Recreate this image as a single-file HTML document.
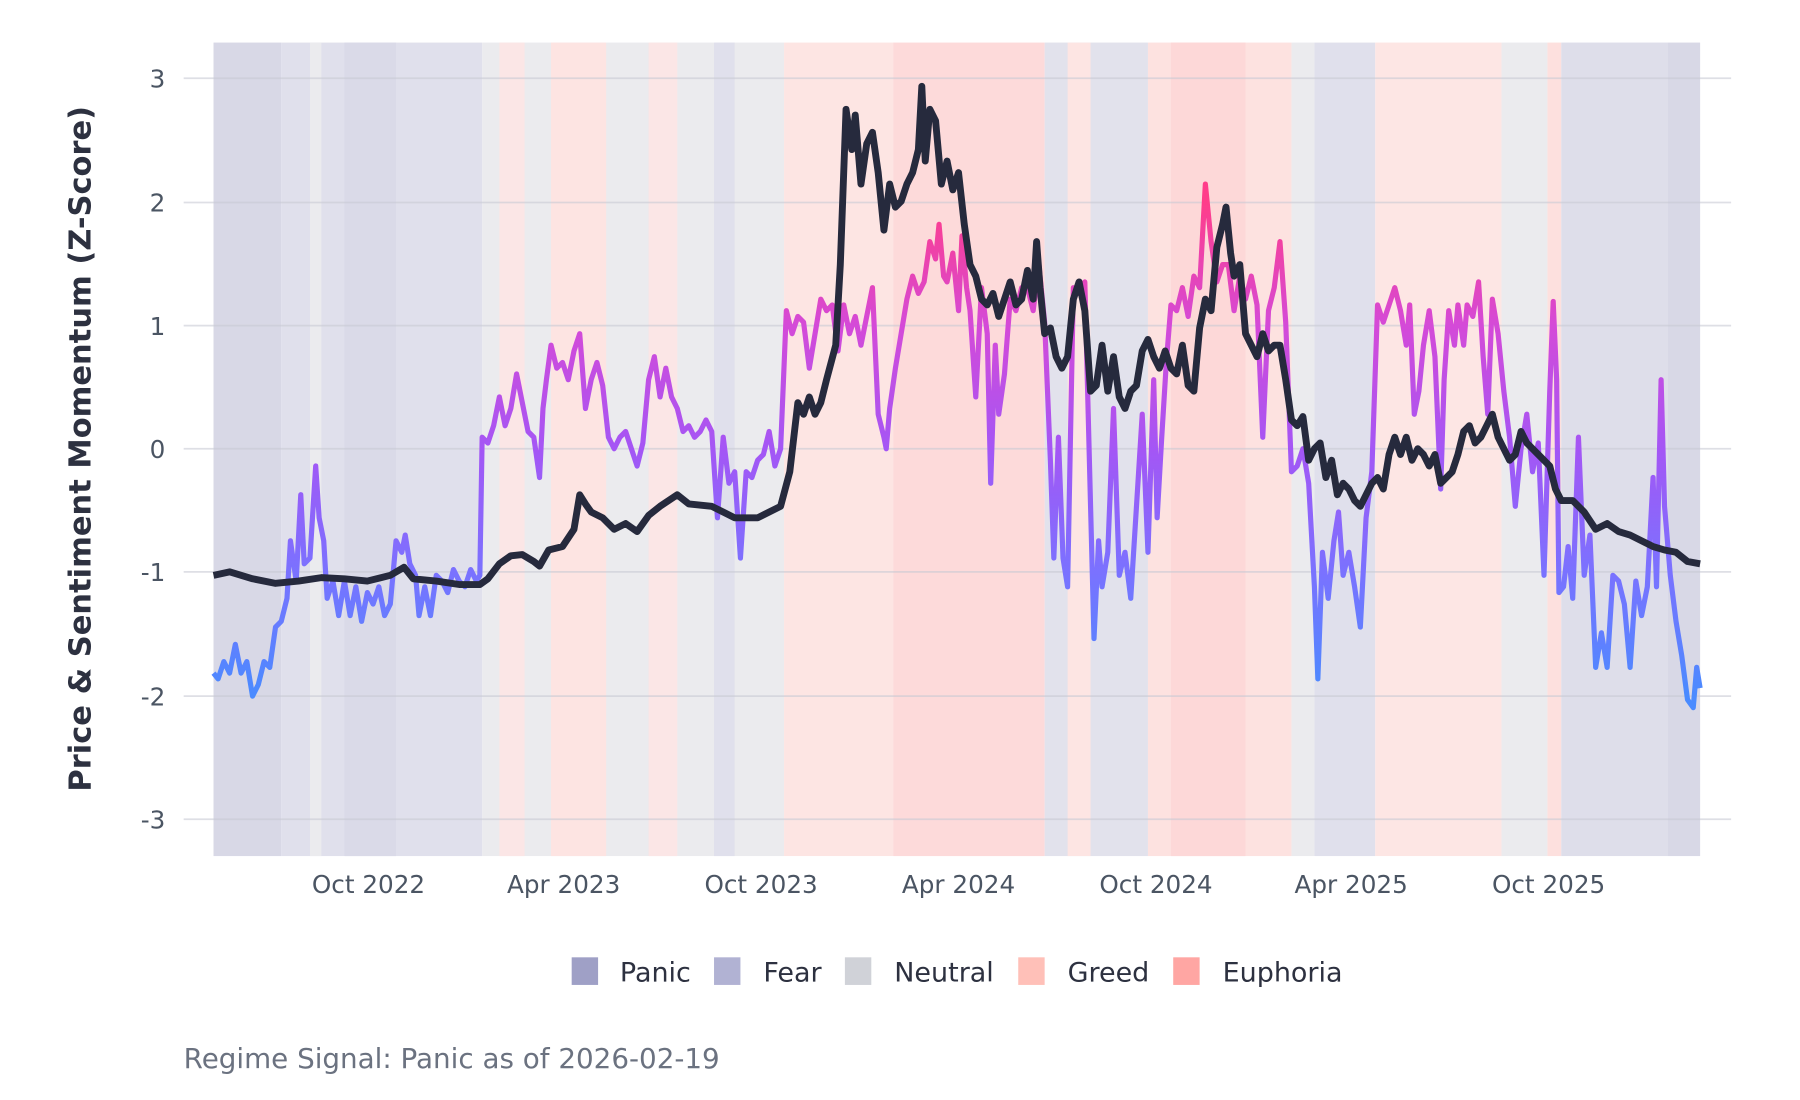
<!DOCTYPE html>
<html><head><meta charset="utf-8"><style>html,body{margin:0;padding:0;background:#fff}svg{display:block}text{font-family:"DejaVu Sans","Liberation Sans",sans-serif}</style></head><body>
<svg width="1800" height="1100" viewBox="0 0 1568 956" preserveAspectRatio="none" xmlns="http://www.w3.org/2000/svg">
<defs>
<linearGradient id="sg" gradientUnits="userSpaceOnUse" x1="0" y1="605" x2="0" y2="176">
<stop offset="0" stop-color="#4a8bff"/>
<stop offset="0.25" stop-color="#7a72ff"/>
<stop offset="0.5" stop-color="#a456f5"/>
<stop offset="0.75" stop-color="#d44ad8"/>
<stop offset="1" stop-color="#ff3d8a"/>
</linearGradient>
</defs>
<g>
<rect x="186" y="37" width="59" height="707" fill="#d8d8e6"/>
<rect x="245" y="37" width="175" height="707" fill="#e0e0ec"/>
<rect x="270" y="37" width="10" height="707" fill="#ebebee"/>
<rect x="300" y="37" width="45" height="707" fill="#dadae8"/>
<rect x="420" y="37" width="263" height="707" fill="#ebebee"/>
<rect x="435" y="37" width="22" height="707" fill="#fbe6e6"/>
<rect x="480" y="37" width="48" height="707" fill="#fde4e2"/>
<rect x="565" y="37" width="25" height="707" fill="#fbe6e6"/>
<rect x="622" y="37" width="18" height="707" fill="#e0e0ec"/>
<rect x="683" y="37" width="95" height="707" fill="#fde5e3"/>
<rect x="778" y="37" width="132" height="707" fill="#fddada"/>
<rect x="910" y="37" width="90" height="707" fill="#e2e2ec"/>
<rect x="930" y="37" width="20" height="707" fill="#fde5e3"/>
<rect x="1000" y="37" width="125" height="707" fill="#fde2e0"/>
<rect x="1020" y="37" width="65" height="707" fill="#fdd8d8"/>
<rect x="1125" y="37" width="20" height="707" fill="#ebebee"/>
<rect x="1145" y="37" width="53" height="707" fill="#e0e0ec"/>
<rect x="1198" y="37" width="110" height="707" fill="#fde6e4"/>
<rect x="1308" y="37" width="40" height="707" fill="#ebebee"/>
<rect x="1348" y="37" width="12" height="707" fill="#fde0de"/>
<rect x="1360" y="37" width="93" height="707" fill="#dedeea"/>
<rect x="1453" y="37" width="28" height="707" fill="#d8d8e6"/>
</g>
<g stroke="#c8cad4" stroke-opacity="0.6" stroke-width="1.5">
<line x1="160" x2="1508" y1="68" y2="68"/><line x1="160" x2="1508" y1="176" y2="176"/>
<line x1="160" x2="1508" y1="283" y2="283"/><line x1="160" x2="1508" y1="390" y2="390"/>
<line x1="160" x2="1508" y1="497" y2="497"/><line x1="160" x2="1508" y1="605" y2="605"/>
<line x1="160" x2="1508" y1="712" y2="712"/>
</g>
<g font-size="21.5" fill="#4b5563" text-anchor="end">
<text x="144" y="76">3</text><text x="144" y="184">2</text><text x="144" y="291">1</text><text x="144" y="398">0</text>
<text x="144" y="505">-1</text><text x="144" y="613">-2</text><text x="144" y="720">-3</text>
</g>
<g font-size="21.5" fill="#4b5563" text-anchor="middle">
<text x="321" y="776">Oct 2022</text><text x="491" y="776">Apr 2023</text><text x="663" y="776">Oct 2023</text>
<text x="835" y="776">Apr 2024</text><text x="1007" y="776">Oct 2024</text><text x="1177" y="776">Apr 2025</text><text x="1349" y="776">Oct 2025</text>
</g>
<text transform="translate(79,390) rotate(-90)" text-anchor="middle" font-size="26.5" font-weight="bold" fill="#2d3140">Price &amp; Sentiment Momentum (Z-Score)</text>
<polyline fill="none" stroke="url(#sg)" stroke-width="4.5" stroke-linejoin="round" points="186,585 190,590 195,575 200,585 205,560 210,585 215,575 220,605 225,595 230,575 235,580 240,545 245,540 250,520 253,470 258,505 262,430 265,490 270,485 275,405 278,450 282,470 285,520 290,505 295,535 300,505 305,535 310,510 315,540 320,515 325,525 330,510 335,535 340,525 345,470 350,480 353,465 357,490 362,500 365,535 370,510 375,535 380,500 385,505 390,515 395,495 400,505 405,510 410,495 415,505 418,500 420,380 425,385 430,370 435,345 440,370 445,355 450,325 455,350 460,375 465,380 470,415 473,355 476,330 480,300 485,320 490,315 495,330 500,305 505,290 510,355 515,330 520,315 525,335 530,380 535,390 540,380 545,375 550,390 555,405 560,385 565,330 570,310 575,345 580,320 585,345 590,355 595,375 600,370 605,380 610,375 615,365 620,375 625,450 630,380 635,420 640,410 645,485 650,410 655,415 660,400 665,395 670,375 675,405 680,390 685,270 690,290 695,275 700,280 705,320 710,290 715,260 720,270 725,265 730,305 735,265 740,290 745,275 750,300 755,275 760,250 765,360 770,380 772,390 775,355 780,320 785,290 790,260 795,240 800,255 805,245 810,210 815,225 818,195 822,240 825,245 830,220 835,270 838,205 842,250 845,270 850,345 855,250 860,290 863,420 867,300 870,360 875,325 880,260 885,270 890,250 895,250 900,270 905,230 910,280 915,400 918,485 922,380 926,485 930,510 935,250 940,255 945,245 950,440 953,555 957,470 960,510 965,480 970,355 975,500 980,480 985,520 990,440 995,360 1000,480 1005,330 1008,450 1012,380 1016,315 1020,265 1025,270 1030,250 1035,275 1040,240 1045,250 1050,160 1055,210 1060,245 1065,230 1070,230 1075,270 1080,240 1085,260 1090,240 1095,265 1100,380 1105,270 1110,250 1115,210 1120,280 1125,410 1130,405 1135,390 1140,420 1145,510 1148,590 1152,480 1157,520 1162,470 1166,445 1170,500 1175,480 1180,510 1185,545 1190,450 1195,410 1200,265 1205,280 1210,265 1215,250 1220,270 1225,300 1228,265 1232,360 1236,340 1240,300 1245,270 1250,310 1255,425 1258,330 1262,270 1267,300 1270,265 1275,300 1278,265 1283,275 1288,245 1292,310 1296,360 1300,260 1305,290 1310,340 1315,380 1320,440 1325,390 1330,360 1335,410 1340,385 1345,500 1350,340 1353,262 1356,330 1358,515 1362,510 1366,475 1370,520 1375,380 1380,500 1385,465 1390,580 1395,550 1400,580 1405,500 1410,505 1415,525 1420,580 1425,505 1430,535 1435,510 1440,415 1443,510 1447,330 1450,440 1455,500 1460,540 1465,570 1470,608 1475,615 1478,580 1481,598"/>
<polyline fill="none" stroke="#262a3d" stroke-width="6" stroke-linejoin="round" points="186,500 200,497 220,503 240,507 260,505 280,502 300,503 320,505 340,500 352,493 360,503 380,505 400,508 418,508 425,503 435,490 445,483 455,482 465,488 470,492 478,478 490,475 500,460 505,430 510,438 515,445 525,450 535,460 545,455 555,462 565,448 575,440 590,430 600,438 620,440 640,450 660,450 680,440 688,410 695,350 700,360 705,345 710,360 715,350 720,330 728,300 732,230 737,95 742,130 745,100 750,160 755,125 760,115 765,150 770,200 775,160 780,180 785,175 790,160 795,150 800,130 803,75 806,140 810,95 815,105 820,160 825,140 830,165 835,150 840,195 845,230 850,240 855,260 860,265 865,255 870,275 875,260 880,245 885,265 890,260 895,235 900,260 903,210 906,250 910,290 915,285 920,310 925,320 930,310 935,260 940,245 945,270 950,340 955,335 960,300 965,340 970,310 975,345 980,355 985,340 990,335 995,305 1000,295 1005,310 1010,320 1015,305 1020,320 1025,325 1030,300 1035,335 1040,340 1045,285 1050,260 1055,270 1060,215 1065,195 1068,180 1072,220 1075,240 1080,230 1085,290 1090,300 1095,310 1100,290 1105,305 1110,300 1115,300 1120,330 1125,365 1130,370 1135,362 1140,400 1145,390 1150,385 1155,415 1160,400 1165,430 1170,420 1175,425 1180,435 1185,440 1190,430 1195,420 1200,415 1205,425 1210,395 1215,380 1220,395 1225,380 1230,400 1235,390 1240,395 1245,405 1250,395 1255,420 1260,415 1265,410 1270,395 1275,375 1280,370 1285,385 1290,380 1295,370 1300,360 1305,380 1310,390 1315,400 1320,395 1325,375 1330,385 1340,395 1350,405 1355,425 1360,435 1370,435 1380,445 1390,460 1400,455 1410,462 1420,465 1430,470 1440,475 1450,478 1460,480 1470,488 1481,490"/>
<g font-size="23.5" fill="#2d3140">
<rect x="498" y="832" width="23" height="24" fill="#9fa0c6"/><text x="540" y="853">Panic</text>
<rect x="622" y="832" width="23" height="24" fill="#b1b2d3"/><text x="665" y="853">Fear</text>
<rect x="736" y="832" width="23" height="24" fill="#d0d2d8"/><text x="779" y="853">Neutral</text>
<rect x="887" y="832" width="23" height="24" fill="#ffc0b8"/><text x="930" y="853">Greed</text>
<rect x="1022" y="832" width="23" height="24" fill="#ffa6a3"/><text x="1065" y="853">Euphoria</text>
</g>
<text x="160" y="928" font-size="24.2" fill="#6b7280">Regime Signal: Panic as of 2026-02-19</text>
</svg>
</body></html>
